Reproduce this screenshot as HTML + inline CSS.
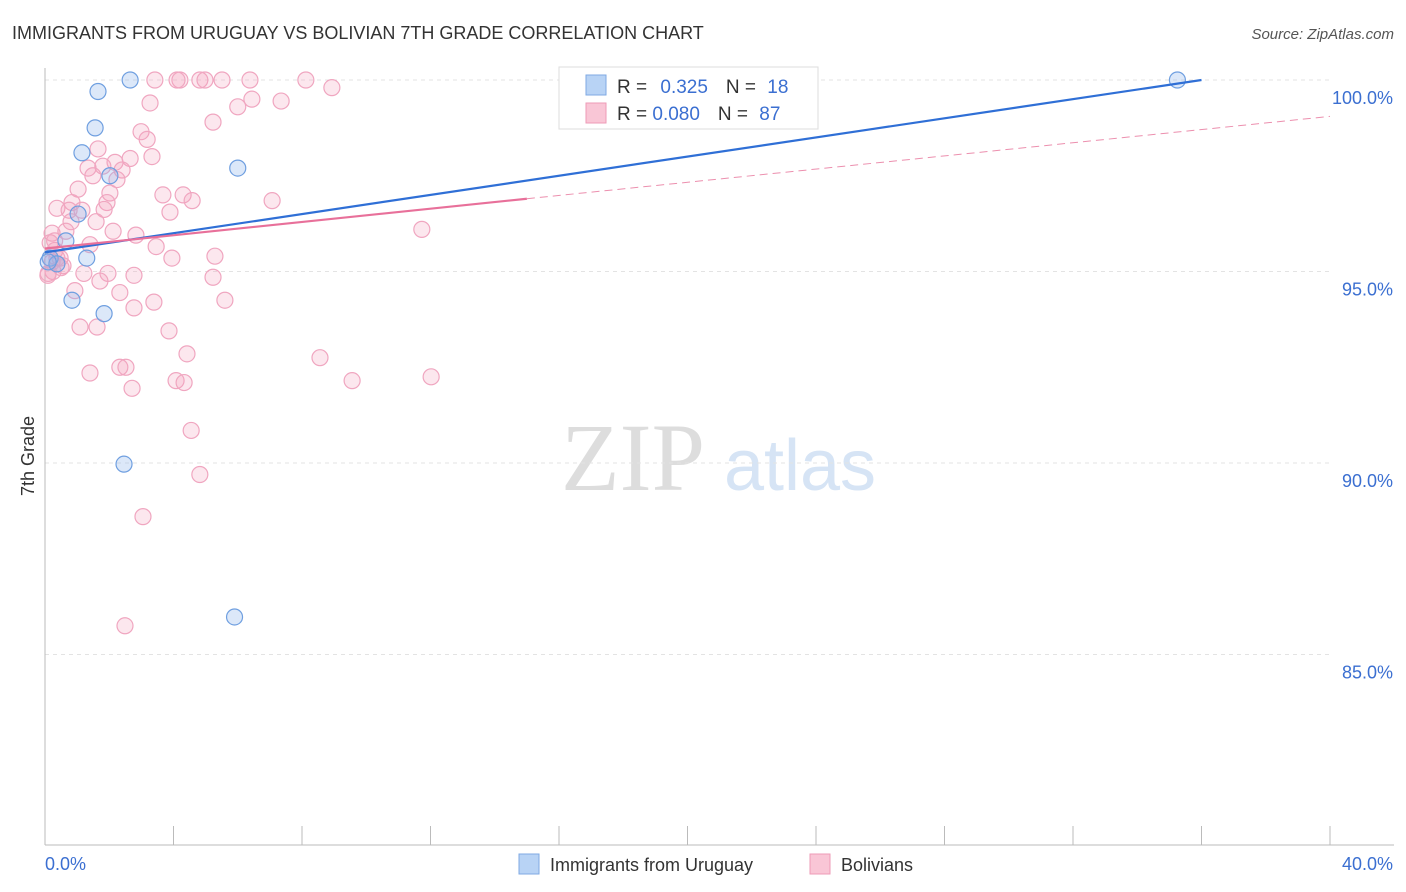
<!DOCTYPE html>
<html><head><meta charset="utf-8"><style>
body{margin:0;background:#fff;font-family:"Liberation Sans",sans-serif;}
#wrap{position:relative;width:1406px;height:892px;overflow:hidden;}
</style></head><body>
<div id="wrap">
<svg id="svg" width="1406" height="892">
<text x="12" y="39" font-size="18" fill="#333">IMMIGRANTS FROM URUGUAY VS BOLIVIAN 7TH GRADE CORRELATION CHART</text>
<text x="1394" y="39" font-size="15" fill="#555" text-anchor="end" font-style="italic">Source: ZipAtlas.com</text>
<text x="34" y="456" font-size="18" fill="#333" transform="rotate(-90 34 456)" text-anchor="middle">7th Grade</text>
<g><text x="633" y="490" font-size="96" fill="#ddd" font-family="Liberation Serif,serif" text-anchor="middle">ZIP</text><text x="800" y="490" font-size="72" fill="#d6e4f5" text-anchor="middle">atlas</text></g>
<g id="grid"></g><g id="axes"></g><g id="pts"></g><g id="lines"></g>
<g>
<rect x="559" y="67" width="259" height="62" fill="#fff" stroke="#ddd"/>
<rect x="586" y="75" width="20" height="20" fill="#b8d3f5" stroke="#7fa9e3"/>
<text x="617" y="93" font-size="19" fill="#333">R = <tspan fill="#3b6fd1" dx="8">0.325</tspan><tspan fill="#333" dx="18">N = </tspan><tspan fill="#3b6fd1" dx="6">18</tspan></text>
<rect x="586" y="103" width="20" height="20" fill="#f9c6d6" stroke="#ee9bb7"/>
<text x="617" y="120" font-size="19" fill="#333">R = <tspan fill="#3b6fd1">0.080</tspan><tspan fill="#333" dx="18">N = </tspan><tspan fill="#3b6fd1" dx="6">87</tspan></text>
</g>
<g>
<rect x="519" y="854" width="20" height="20" fill="#b8d3f5" stroke="#7fa9e3"/>
<text x="550" y="871" font-size="18" fill="#333">Immigrants from Uruguay</text>
<rect x="810" y="854" width="20" height="20" fill="#f9c6d6" stroke="#ee9bb7"/>
<text x="841" y="871" font-size="18" fill="#333">Bolivians</text>
</g>
</svg></div>
<script>
const blueX=[2.65,1.65,1.56,1.15,2.02,6.0,23.6,35.25,1.03,0.65,0.16,0.37,1.3,0.84,1.84,2.46,5.9,0.1];
const blueY=[100,99.7,98.75,98.1,97.5,97.7,100,100,96.5,95.8,95.35,95.2,95.35,94.25,93.9,89.97,85.98,95.25];
const pinkX=[3.42,4.2,4.82,5.51,6.38,8.12,4.11,4.98,8.93,3.27,6.0,6.44,7.35,5.23,2.99,3.18,1.65,3.33,2.65,2.18,1.8,1.34,2.4,1.49,2.24,1.03,2.02,3.67,4.3,4.58,7.07,1.93,0.84,0.37,1.15,1.84,3.89,0.75,1.59,0.81,0.65,2.12,2.83,11.73,0.22,1.4,3.46,0.16,0.31,0.47,3.95,5.29,0.56,0.25,0.09,1.21,1.96,2.77,5.23,1.71,0.93,2.33,3.39,5.6,2.77,1.09,1.62,3.86,4.42,8.56,1.4,2.33,2.52,4.08,4.33,9.56,12.02,2.71,4.55,4.82,3.05,2.49,0.37,0.22,0.5,0.1,0.3];
const pinkY=[100,100,100,100,100,100,100,100,99.8,99.4,99.3,99.5,99.45,98.9,98.65,98.45,98.2,98.0,97.95,97.85,97.75,97.7,97.65,97.5,97.4,97.15,97.05,97.0,97.0,96.85,96.85,96.8,96.8,96.65,96.6,96.62,96.55,96.6,96.3,96.3,96.05,96.05,95.95,96.1,96.0,95.7,95.65,95.75,95.55,95.35,95.35,95.4,95.15,95.0,94.9,94.95,94.95,94.9,94.85,94.75,94.5,94.45,94.2,94.25,94.05,93.55,93.55,93.45,92.85,92.75,92.35,92.5,92.5,92.15,92.1,92.15,92.25,91.95,90.85,89.7,88.6,85.75,95.35,95.25,95.1,94.95,95.8];
const yTicks=[100,95,90,85];
const yTickLabels=["100.0%","95.0%","90.0%","85.0%"];
const xTicks=[0,4,8,12,16,20,24,28,32,36,40];
const blueTrend=[[0,95.5],[36,100.0]];
const pinkSolid=[[0,95.6],[15,96.9]];
const pinkDash=[[15,96.9],[40,99.05]];
const NS="http://www.w3.org/2000/svg";
const sx=v=>45+v/40*1285, sy=v=>80+(100-v)*38.3;
function mk(tag,attrs,parent){const e=document.createElementNS(NS,tag);for(const k in attrs)e.setAttribute(k,attrs[k]);document.getElementById(parent).appendChild(e);return e;}
yTicks.forEach((t,i)=>{
 const g=mk('line',{x1:45,x2:1330,y1:sy(t),y2:sy(t),stroke:'#e3e3e3','stroke-dasharray':'4,4'},'grid');
 
 
 const tx=mk('text',{x:1393,y:sy(t)+24,'font-size':18,fill:'#3b6fd1','text-anchor':'end'},'axes');
 tx.textContent=yTickLabels[i];
 
 
});
const ax=mk('line',{x1:45,x2:45,y1:68,y2:845,stroke:'#bbb'},'axes');


const bx=mk('line',{x1:45,x2:1394,y1:845,y2:845,stroke:'#bbb'},'axes');


xTicks.forEach(t=>{const l=mk('line',{x1:sx(t),x2:sx(t),y1:826,y2:845,stroke:'#bbb'},'axes');
 
 });
const x0=mk('text',{x:45,y:870,'font-size':18,fill:'#3b6fd1'},'axes');x0.textContent='0.0%';


const x1=mk('text',{x:1393,y:870,'font-size':18,fill:'#3b6fd1','text-anchor':'end'},'axes');x1.textContent='40.0%';


pinkX.forEach((x,i)=>{const c=mk('circle',{cx:sx(x),cy:sy(pinkY[i]),r:8,fill:'rgba(244,160,188,0.25)',stroke:'#f0a6c0','stroke-width':1.2},'pts');
 
 });
blueX.forEach((x,i)=>{const c=mk('circle',{cx:sx(x),cy:sy(blueY[i]),r:8,fill:'rgba(140,180,235,0.3)',stroke:'#6f9fe0','stroke-width':1.2},'pts');
 
 });
const lb=mk('line',{x1:sx(blueTrend[0][0]),y1:sy(blueTrend[0][1]),x2:sx(blueTrend[1][0]),y2:sy(blueTrend[1][1]),stroke:'#2f6fd6','stroke-width':2.2},'lines');


const lp=mk('line',{x1:sx(pinkSolid[0][0]),y1:sy(pinkSolid[0][1]),x2:sx(pinkSolid[1][0]),y2:sy(pinkSolid[1][1]),stroke:'#e8709a','stroke-width':2.2},'lines');


const ld=mk('line',{x1:sx(pinkDash[0][0]),y1:sy(pinkDash[0][1]),x2:sx(pinkDash[1][0]),y2:sy(pinkDash[1][1]),stroke:'#ec8fae','stroke-width':1,'stroke-dasharray':'8,5'},'lines');


</script>
</body></html>
